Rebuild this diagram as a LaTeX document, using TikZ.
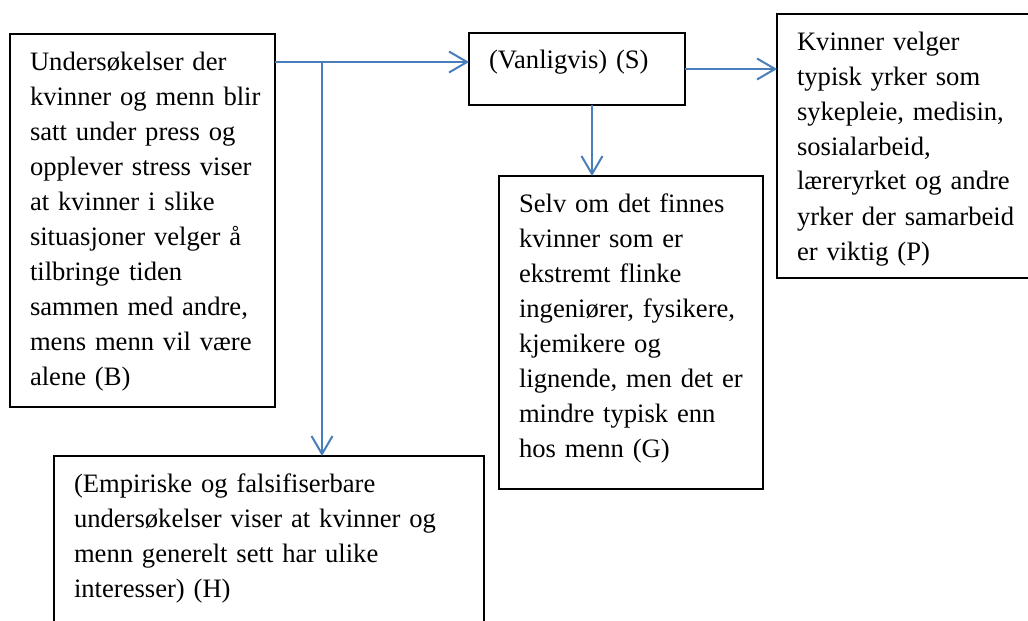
\documentclass[tikz,border=0pt]{standalone}
\usepackage{fontspec}
\setmainfont{Liberation Serif}
\usetikzlibrary{arrows.meta}
\definecolor{connblue}{RGB}{74,126,187}
\tikzset{
  boxnode/.style={draw=black, line width=0.9pt, rectangle, inner sep=0pt, outer sep=0pt, anchor=north west},
  txtnode/.style={inner sep=0pt, outer sep=0pt, anchor=north west, align=left, text width=240pt,
    font=\fontsize{13.3pt}{17.5pt}\selectfont},
  conn/.style={draw=connblue, line width=1pt, -{Straight Barb[length=9pt,width=10.5pt,line width=1pt]}}
}
\begin{document}
\begin{tikzpicture}[x=0.5pt,y=-0.5pt]
\useasboundingbox (0,0) rectangle (1028,621);
\clip (0,0) rectangle (1028,621);
% boxes
\node[boxnode, minimum width=132.5pt, minimum height=186.5pt] (B) at (10,34) {};
\node[boxnode, minimum width=108pt, minimum height=36pt] (S) at (469,33) {};
\node[boxnode, minimum width=135pt, minimum height=132pt] (P) at (777,14) {};
\node[boxnode, minimum width=132pt, minimum height=156.5pt] (G) at (499,176) {};
\node[boxnode, minimum width=215pt, minimum height=95pt] (H) at (54,456) {};
% texts
\node[txtnode] (Bt) at (30,45.5) {\strut Undersøkelser der\\kvinner og menn blir\\satt under press og\\opplever stress viser\\at kvinner i slike\\situasjoner velger å\\tilbringe tiden\\sammen med andre,\\mens menn vil være\\alene (B)};
\node[txtnode] (St) at (489,44.5) {\strut (Vanligvis) (S)};
\node[txtnode] (Pt) at (797,25.5) {\strut Kvinner velger\\typisk yrker som\\sykepleie, medisin,\\sosialarbeid,\\læreryrket og andre\\yrker der samarbeid\\er viktig (P)};
\node[txtnode] (Gt) at (519,187.5) {\strut Selv om det finnes\\kvinner som er\\ekstremt flinke\\ingeniører, fysikere,\\kjemikere og\\lignende, men det er\\mindre typisk enn\\hos menn (G)};
\node[txtnode] (Ht) at (74,467.5) {\strut (Empiriske og falsifiserbare\\undersøkelser viser at kvinner og\\menn generelt sett har ulike\\interesser) (H)};
% connectors
\coordinate (b1) at ([yshift=-14pt]B.north east);
\coordinate (j) at (322,62);
\coordinate (s1) at ([xshift=7.5pt]S.south);
\draw[conn] (b1) -- (S.west |- b1);
\draw[conn] (j) -- (j |- H.north);
\draw[conn] (S.east) -- (S.east -| P.west);
\draw[conn] (s1) -- (s1 |- G.north);
\end{tikzpicture}
\end{document}
